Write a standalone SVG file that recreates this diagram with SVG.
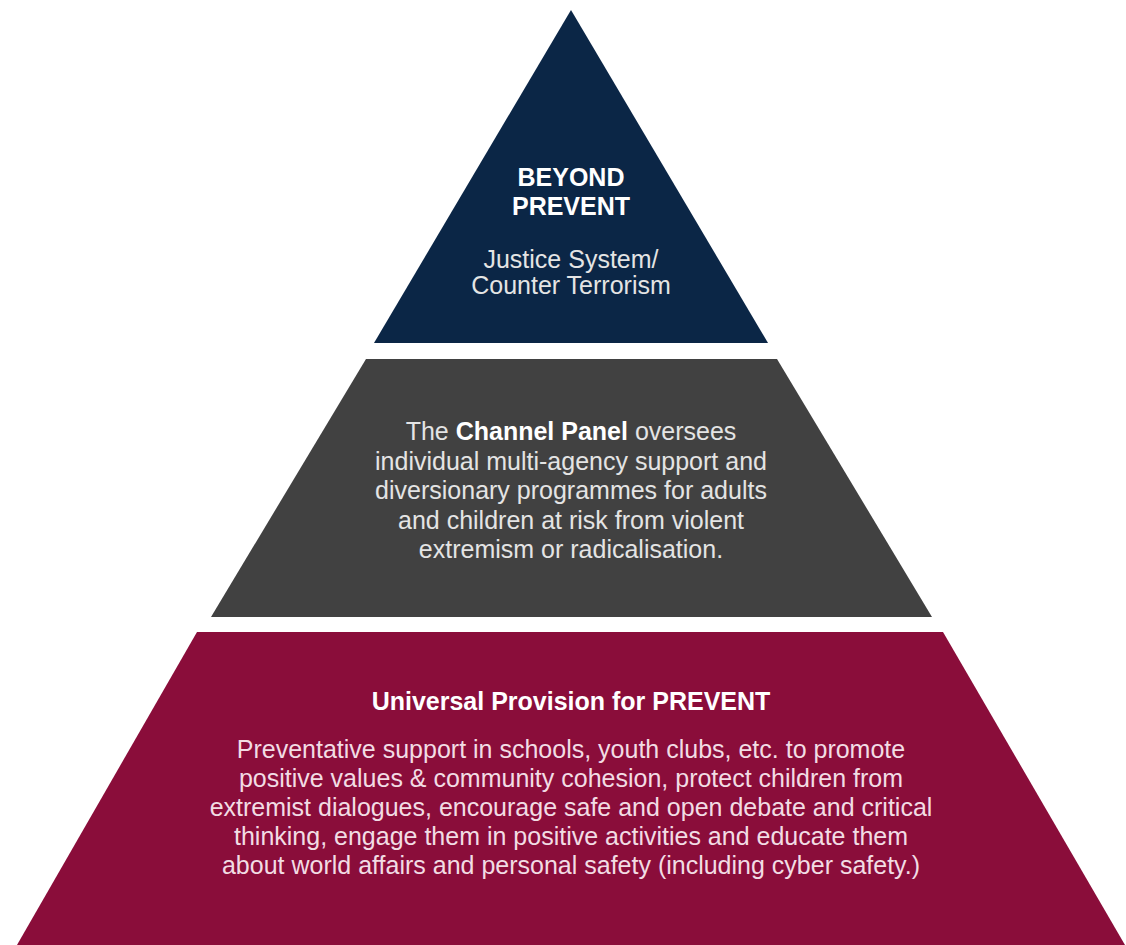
<svg xmlns="http://www.w3.org/2000/svg" width="1126" height="945" viewBox="0 0 1126 945">
<style>
  text { font-family: "Liberation Sans", Arial, sans-serif; font-size: 25px; text-anchor: middle; }
  .b { font-weight: bold; fill: #ffffff; }
  .r { fill: #e4e4e4; }
  .rm { fill: #f2dce4; }
</style>
<rect x="0" y="0" width="1126" height="945" fill="#ffffff"/>
<g id="tier-top">
  <polygon points="571,10 768,343 374,343" fill="#0b2646"/>
  <text class="b" x="571" y="186">BEYOND</text>
  <text class="b" x="571" y="215">PREVENT</text>
  <text class="r" x="571" y="268">Justice System/</text>
  <text class="r" x="571" y="294">Counter Terrorism</text>
</g>
<g id="tier-middle">
  <polygon points="366,359 777,359 932,617 211,617" fill="#414141"/>
  <text class="r" x="571" y="440">The <tspan font-weight="bold" fill="#ffffff">Channel Panel</tspan> oversees</text>
  <text class="r" x="571" y="469.5">individual multi-agency support and</text>
  <text class="r" x="571" y="499">diversionary programmes for adults</text>
  <text class="r" x="571" y="528.5">and children at risk from violent</text>
  <text class="r" x="571" y="558">extremism or radicalisation.</text>
</g>
<g id="tier-bottom">
  <polygon points="197,632 943,632 1125,945 17,945" fill="#8a0d3a"/>
  <text class="b" x="571" y="710">Universal Provision for PREVENT</text>
  <text class="rm" x="571" y="758">Preventative support in schools, youth clubs, etc. to promote</text>
  <text class="rm" x="571" y="787">positive values &amp; community cohesion, protect children from</text>
  <text class="rm" x="571" y="816">extremist dialogues, encourage safe and open debate and critical</text>
  <text class="rm" x="571" y="845">thinking, engage them in positive activities and educate them</text>
  <text class="rm" x="571" y="874">about world affairs and personal safety (including cyber safety.)</text>
</g>
<g id="connectors"/>
</svg>
